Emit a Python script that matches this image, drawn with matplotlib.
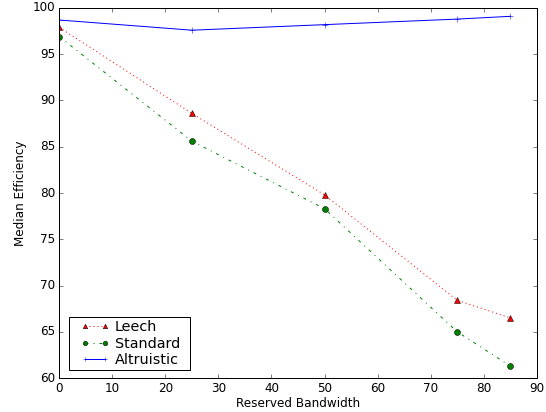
import matplotlib
matplotlib.use("Agg")
import matplotlib.pyplot as plt
from matplotlib.patches import Rectangle
from matplotlib.transforms import IdentityTransform

plt.style.use('classic')

bandwidth = [0, 25, 50, 75, 85]
leech = [97.9, 88.6, 79.8, 68.4, 66.5]
standard = [96.9, 85.6, 78.3, 65.0, 61.3]
altruistic = [98.7, 97.6, 98.2, 98.8, 99.1]

DPI = 72
W, H = 546, 412
fig = plt.figure(figsize=(W / DPI, H / DPI), dpi=DPI)
ax = fig.add_axes([0.1086, 0.0825, 0.8744, 0.8981])
ax.plot(bandwidth, leech, 'r^:', label='Leech')
ax.plot(bandwidth, standard, 'go-.', label='Standard')
ax.plot(bandwidth, altruistic, 'b+-', label='Altruistic')
ax.set_xlim(0, 90)
ax.set_ylim(60, 100)
ax.set_xlabel('Reserved Bandwidth', labelpad=2)
ax.set_ylabel('Median Efficiency', labelpad=6)

leg = ax.legend(loc='lower left', bbox_to_anchor=(0.0455, 0.030), borderaxespad=0,
                borderpad=0, labelspacing=0.16, handlelength=1.95, handletextpad=0.4,
                markerscale=0.75, frameon=False)
fig.canvas.draw()
bb = leg.get_window_extent()
pl, pr, pt, pb = 12, 10, 3, 3
frame = Rectangle((bb.x0 - pl, bb.y0 - pb), bb.width + pl + pr, bb.height + pt + pb,
                  transform=IdentityTransform(), facecolor='white', edgecolor='black',
                  linewidth=1.0, zorder=4.9)
ax.add_patch(frame)
fig.savefig('out.png', dpi=DPI)
